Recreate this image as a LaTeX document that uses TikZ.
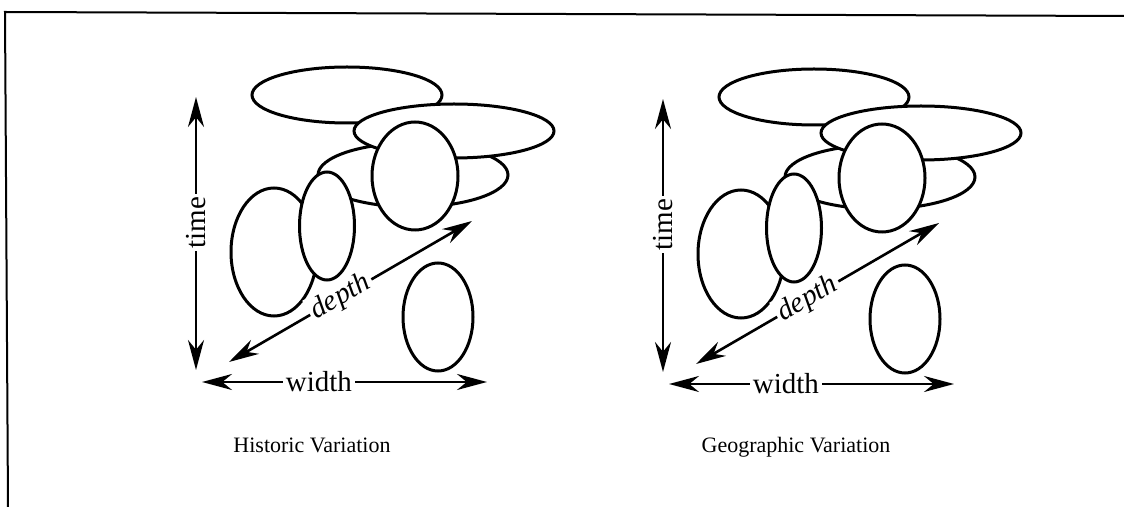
\documentclass[tikz,border=0pt]{standalone}
\usepackage{fontspec}
\setmainfont{Liberation Serif}
\usetikzlibrary{arrows.meta,shapes.geometric}

\begin{document}
\begin{tikzpicture}[x=0.5pt,y=-0.5pt,>={Stealth[length=15pt,width=8pt]},
  blob/.style={draw,ellipse,line width=1.5pt,fill=white,inner sep=0pt},
  axis/.style={<->,line width=1.3pt},
  axlabel/.style={fill=white,inner sep=1.5pt,font=\fontsize{14.5}{17}\selectfont},
  caption/.style={anchor=base,font=\fontsize{11}{13}\selectfont}]
\useasboundingbox (0,0) rectangle (1124,507);
\draw[line width=1pt] (8,507) -- (5,12) -- (1124,16);
\foreach \p/\dx/\dy in {h/0/0,g/467/2}{
\begin{scope}[shift={(\dx,\dy)}]
% ellipses, back to front
\node[blob,minimum width=95pt,minimum height=28pt] (\p e1) at (347,95) {};
\node[blob,minimum width=95pt,minimum height=32pt] (\p e3) at (413,175) {};
\node[blob,minimum width=100pt,minimum height=27pt] (\p e2) at (454,131) {};
\node[blob,minimum width=43pt,minimum height=54pt] (\p e4) at (415,176) {};
\node[blob,minimum width=43pt,minimum height=64pt] (\p e5) at (274,252) {};
\node[blob,minimum width=27.5pt,minimum height=54pt] (\p e6) at (327,226) {};
\node[blob,minimum width=35pt,minimum height=54pt] (\p e7) at (438,317) {};
% axes
\coordinate (\p tb) at (196,370);
\coordinate (\p tt) at (196,97);
\coordinate (\p wl) at (202,382);
\coordinate (\p wr) at (487,382);
\coordinate (\p dl) at (229,362);
\coordinate (\p du) at (472,221);
\draw[axis] (\p tb) -- node[axlabel,sloped,pos=0.54] (\p time) {time} (\p tt);
\draw[axis] (\p wl) -- node[axlabel,pos=0.41] (\p width) {width} (\p wr);
\draw[axis] (\p dl) -- node[axlabel,sloped,pos=0.46] (\p depth) {\itshape depth} (\p du);
\end{scope}
}
\node[caption] (hcap) at (312,452) {Historic Variation};
\node[caption] (gcap) at (796,452) {Geographic Variation};
\end{tikzpicture}
\end{document}
